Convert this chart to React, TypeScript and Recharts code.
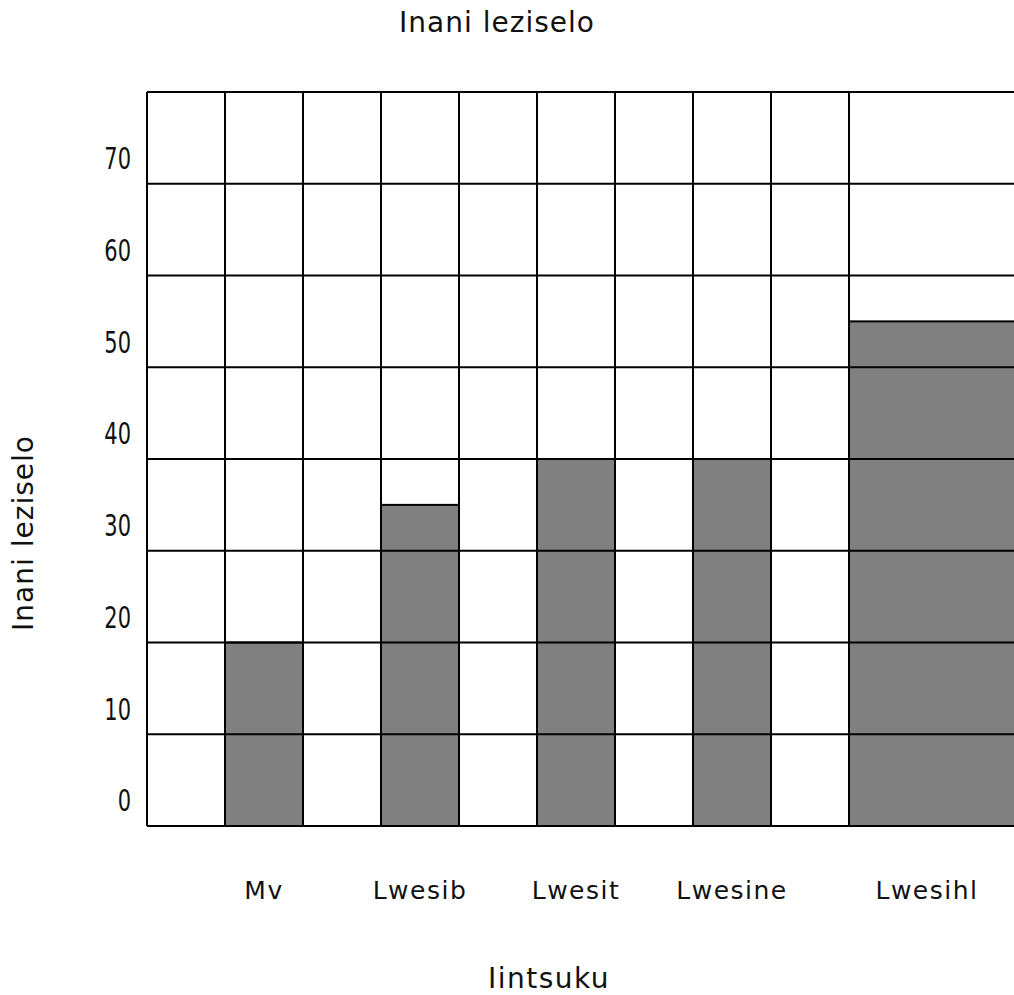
import React from 'react';
import { BarChart, Bar, XAxis, YAxis, CartesianGrid } from 'recharts';

// Slots along the x axis. Lwesihl covers the last slots, which run past the right edge of the page.
const days = ['', 'Mv', '', 'Lwesib', '', 'Lwesit', '', 'Lwesine', '', 'Lwesihl', 'Lwesihl', 'Lwesihl'];
const drinks = [null, 20, null, 35, null, 40, null, 40, null, 55, 55, 55];
const yTicks = [0, 10, 20, 30, 40, 50, 60, 70];
const gridYTicks = [0, 10, 20, 30, 40, 50, 60, 70, 80];
const gridXSlots = [0, 1, 2, 3, 4, 5, 6, 7, 8, 9];

const data = days.map((day, i) => ({ slot: i, day, drinks: drinks[i] }));

const textFont = '"DejaVu Sans", sans-serif';
const CHART_W = 1083;
const CHART_H = 995;
const MARGIN = { top: 92, right: 0, bottom: 109, left: 0 };

const YTick = (props: any) => {
  const { x, y, payload } = props;
  return (
    <text
      transform={`translate(${x}, ${y - 25}) scale(0.7, 1)`}
      textAnchor="end"
      dominantBaseline="central"
      fontFamily={textFont}
      fontSize={30}
      fill="#111"
    >
      {payload.value}
    </text>
  );
};

const DayTick = (props: any) => {
  const { x, y, payload, width } = props;
  const i = payload.value as number;
  const label = days[i];
  if (!label || days[i - 1] === label) return null;
  // a day that runs on into the next slot gets its label between the two
  const shift = days[i + 1] === label ? width / days.length / 2 : 0;
  return (
    <text
      x={x + shift}
      y={y + 62}
      textAnchor="middle"
      dominantBaseline="central"
      fontFamily={textFont}
      fontSize={25}
      letterSpacing={1.5}
      fill="#111"
    >
      {label}
    </text>
  );
};

// one rectangle per day, however many slots it covers
const DayBar = (props: any) => {
  const { x, y, width, height, payload } = props;
  const i = payload.slot as number;
  const label = days[i];
  if (drinks[i] == null || height == null) return null;
  if (label && days[i - 1] === label) return null;
  let span = 1;
  while (label && days[i + span] === label) span++;
  return <rect x={x} y={y} width={width * span} height={height} fill="#808080" stroke="#000" strokeWidth={2} />;
};

const NoTick = () => <g />;

export default function App() {
  return (
    <div style={{ position: 'fixed', left: 0, top: 0, width: 1014, height: 995, overflow: 'hidden', background: '#fff' }}>
      <div
        style={{
          position: 'absolute', left: 497, top: 6, transform: 'translateX(-50%)',
          fontFamily: textFont, fontSize: 28, letterSpacing: 1, whiteSpace: 'nowrap', color: '#111',
        }}
      >
        Inani leziselo
      </div>
      <div
        style={{
          position: 'absolute', left: 23, top: 533, transform: 'translate(-50%, -50%) rotate(-90deg)',
          fontFamily: textFont, fontSize: 28, letterSpacing: 1, whiteSpace: 'nowrap', color: '#111',
        }}
      >
        Inani leziselo
      </div>
      <div
        style={{
          position: 'absolute', left: 549, top: 962, transform: 'translateX(-50%)',
          fontFamily: textFont, fontSize: 28, letterSpacing: 1.5, whiteSpace: 'nowrap', color: '#111',
        }}
      >
        Iintsuku
      </div>

      {/* bars and tick labels */}
      <BarChart
        width={CHART_W}
        height={CHART_H}
        data={data}
        margin={MARGIN}
        barCategoryGap={0}
        style={{ position: 'absolute', left: 0, top: 0 }}
      >
        <XAxis dataKey="slot" tick={<DayTick />} tickLine={false} tickSize={0} axisLine={false} height={60} interval={0} />
        <YAxis
          domain={[0, 80]}
          ticks={yTicks}
          tick={<YTick />}
          tickLine={false}
          tickSize={0}
          tickMargin={16}
          axisLine={false}
          width={147}
          interval={0}
        />
        <Bar dataKey="drinks" shape={<DayBar />} isAnimationActive={false} />
      </BarChart>

      {/* grid drawn over the bars: slot edges on a numeric axis spanning the same slots */}
      <BarChart
        width={CHART_W}
        height={CHART_H}
        data={data}
        margin={MARGIN}
        style={{ position: 'absolute', left: 0, top: 0 }}
      >
        <XAxis
          dataKey="slot"
          type="number"
          domain={[0, days.length]}
          allowDataOverflow
          ticks={gridXSlots}
          interval={0}
          tick={<NoTick />}
          tickLine={false}
          axisLine={false}
          height={60}
        />
        <YAxis
          domain={[0, 80]}
          allowDataOverflow
          ticks={gridYTicks}
          interval={0}
          tick={<NoTick />}
          tickLine={false}
          axisLine={false}
          width={147}
        />
        <CartesianGrid stroke="#000" strokeWidth={2} />
      </BarChart>
    </div>
  );
}
